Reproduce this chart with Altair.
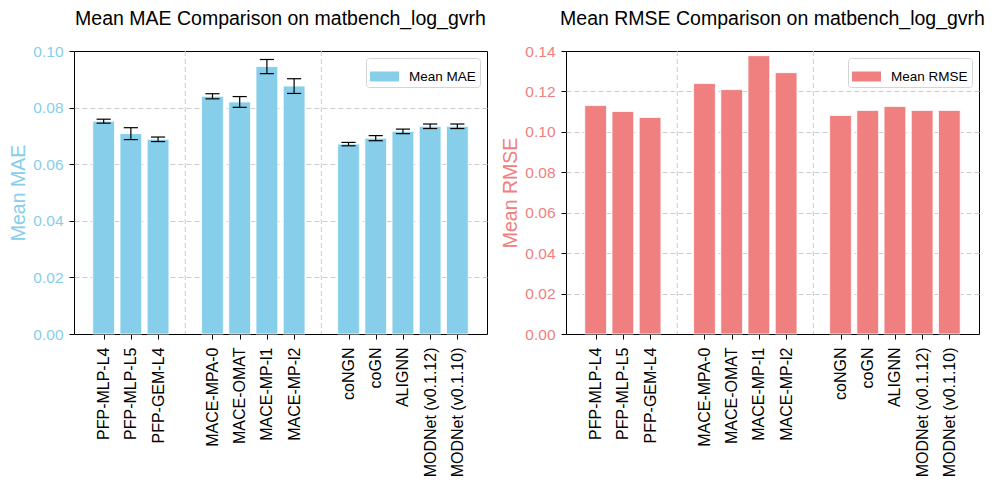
import altair as alt
import pandas as pd

models = ["PFP-MLP-L4", "PFP-MLP-L5", "PFP-GEM-L4",
          "MACE-MPA-0", "MACE-OMAT", "MACE-MP-l1", "MACE-MP-l2",
          "coNGN", "coGN", "ALIGNN", "MODNet (v0.1.12)", "MODNet (v0.1.10)"]
positions = [0, 1, 2, 4, 5, 6, 7, 9, 10, 11, 12, 13]
mae = [0.0752, 0.0708, 0.0688, 0.0840, 0.0820, 0.0945, 0.0876,
       0.0671, 0.0692, 0.0716, 0.0734, 0.0734]
mae_err = [0.0007, 0.0021, 0.0008, 0.0009, 0.0019, 0.0025, 0.0026,
           0.0006, 0.0009, 0.0008, 0.0008, 0.0008]
rmse = [0.1130, 0.1101, 0.1071, 0.1239, 0.1209, 0.1377, 0.1293,
        0.1081, 0.1106, 0.1126, 0.1106, 0.1106]
separators = [3, 8]
mae_ticks = [0.0, 0.02, 0.04, 0.06, 0.08, 0.10]
rmse_ticks = [0.0, 0.02, 0.04, 0.06, 0.08, 0.10, 0.12, 0.14]

FONT = "Liberation Sans"
BLUE = "#87CEEB"
RED = "#F08080"
BAR_W = 0.8
CAP_W = 0.26

df = pd.DataFrame({"model": models, "pos": positions, "mae": mae,
                   "err": mae_err, "rmse": rmse})
df["x0"] = df["pos"] - BAR_W / 2
df["x1"] = df["pos"] + BAR_W / 2
df["c0"] = df["pos"] - CAP_W
df["c1"] = df["pos"] + CAP_W
df["lo"] = df["mae"] - df["err"]
df["hi"] = df["mae"] + df["err"]
df["zero"] = 0.0
df["s_mae"] = "Mean MAE"
df["s_rmse"] = "Mean RMSE"
sep_df = pd.DataFrame({"sep": separators})

# label lookup array for positions
lab = [""] * 14
for p, m in zip(positions, models):
    lab[p] = m
label_expr = "[" + ",".join("'" + s + "'" for s in lab) + "][datum.value]"

xscale = alt.Scale(domain=[-1.09, 14.09], nice=False, zero=False, padding=0)
xaxis = alt.Axis(values=positions, labelExpr=label_expr, labelAngle=270,
                 labelFont=FONT, labelFontSize=16, labelColor="black",
                 tickColor="black", tickSize=5, tickWidth=1, labelPadding=8,
                 domain=False, grid=False, labelOverlap=False,
                 labelFlush=False, labelBound=False, title=None)

SWATCH = "M-1,-0.345L1,-0.345L1,0.345L-1,0.345Z"


def yaxis(ticks, color, title):
    top = max(ticks)
    return alt.Axis(values=ticks, format=".2f", grid=True, gridDash=[5, 3],
                    gridColor="#cccccc", gridWidth=1,
                    gridOpacity={"condition": {
                        "test": f"datum.value <= 0 || datum.value >= {top - 1e-6}",
                        "value": 0}, "value": 1},
                    domain=False,
                    tickColor="black", tickSize=5, tickWidth=1,
                    labelColor=color, labelFont=FONT, labelFontSize=15.5,
                    labelPadding=6, title=title, titleColor=color,
                    titleFont=FONT, titleFontSize=19.5,
                    titleFontWeight="normal", titlePadding=4,
                    labelFlush=False)


def legend():
    return alt.Legend(title=None, orient="top-right", offset=7, padding=4,
                      strokeColor="#d4d4d4", fillColor="white",
                      cornerRadius=3, labelFont=FONT, labelFontSize=13.5,
                      labelColor="black", symbolType=SWATCH,
                      symbolSize=841, symbolStrokeWidth=0, symbolOpacity=1,
                      labelOffset=10)


def panel(field, ticks, dom, color, ytitle, series, title, with_err):
    yscale = alt.Scale(domain=dom, nice=False, padding=0)
    ya = yaxis(ticks, color, ytitle)
    base = alt.Chart(df)
    seps = alt.Chart(sep_df).mark_rule(
        color="#cccccc", strokeDash=[5, 3], strokeWidth=1
    ).encode(x=alt.X("sep:Q", scale=xscale, axis=xaxis, title=None))
    bars = base.mark_rect(stroke="white", strokeWidth=0.8).encode(
        x=alt.X("x0:Q", scale=xscale, axis=xaxis, title=None),
        x2="x1:Q",
        y=alt.Y(field + ":Q", scale=yscale, axis=ya, title=ytitle),
        y2="zero:Q",
        color=alt.Color(series + ":N",
                        scale=alt.Scale(domain=[ytitle], range=[color]),
                        legend=legend()),
    )
    layers = [seps, bars]
    if with_err:
        stem = base.mark_rule(color="black", strokeWidth=1.2).encode(
            x=alt.X("pos:Q", scale=xscale, axis=xaxis, title=None),
            y=alt.Y("lo:Q", scale=yscale, axis=ya, title=ytitle),
            y2="hi:Q",
        )
        cap_lo = base.mark_rule(color="black", strokeWidth=1.2).encode(
            x=alt.X("c0:Q", scale=xscale, axis=xaxis, title=None),
            x2="c1:Q",
            y=alt.Y("lo:Q", scale=yscale, axis=ya, title=ytitle),
        )
        cap_hi = base.mark_rule(color="black", strokeWidth=1.2).encode(
            x=alt.X("c0:Q", scale=xscale, axis=xaxis, title=None),
            x2="c1:Q",
            y=alt.Y("hi:Q", scale=yscale, axis=ya, title=ytitle),
        )
        layers += [stem, cap_lo, cap_hi]
    return alt.layer(*layers).properties(
        width=413, height=283,
        title=alt.TitleParams(title, font=FONT, fontSize=19.5,
                              fontWeight="normal", color="black",
                              anchor="middle", offset=15, frame="group"),
    )


left = panel("mae", mae_ticks, [0, 0.10], BLUE, "Mean MAE", "s_mae",
             "Mean MAE Comparison on matbench_log_gvrh", True)
right = panel("rmse", rmse_ticks, [0, 0.14], RED, "Mean RMSE", "s_rmse",
              "Mean RMSE Comparison on matbench_log_gvrh", False)

chart = alt.hconcat(left, right, spacing=12).resolve_scale(
    color="independent", x="independent", y="independent"
).resolve_legend(color="independent").configure_view(
    stroke="black", strokeWidth=1
).properties(padding=0, background="white")

chart.save("out.html", embed_options={"renderer": "svg", "actions": False})
